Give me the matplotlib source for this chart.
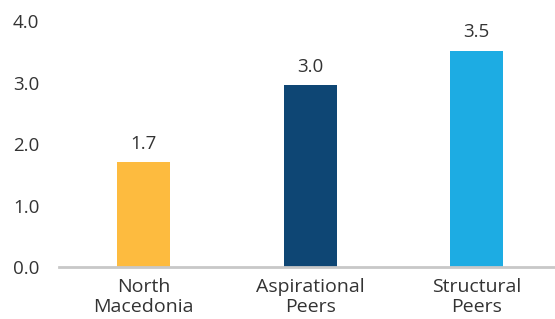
import matplotlib.pyplot as plt

# --- Data ---
categories = ['North\nMacedonia', 'Aspirational\nPeers', 'Structural\nPeers']
values = [1.70, 2.96, 3.52]
colors = ['#FDBB3F', '#0E4674', '#1DACE3']
yticks = [0.0, 1.0, 2.0, 3.0, 4.0]

plt.rcParams['font.family'] = ['Open Sans', 'DejaVu Sans']

fig = plt.figure(figsize=(5.55, 3.19), dpi=100)
ax = fig.add_axes([0.106, 0.163, 0.894, 0.771])

x = range(len(categories))
bars = ax.bar(x, values, width=0.32, color=colors, zorder=2)

# value labels above bars
for bar, v in zip(bars, values):
    ax.text(bar.get_x() + bar.get_width() / 2, v + 0.15, f'{v:.1f}',
            ha='center', va='bottom', fontsize=13.5, color='#333333')

ax.set_xlim(-0.51, 2.47)
ax.set_ylim(0, 4.0)
ax.set_yticks(yticks)
ax.set_yticklabels([f'{t:.1f}' for t in yticks])
ax.set_xticks(list(x))
ax.set_xticklabels(categories, linespacing=1.15)

for s in ['top', 'right', 'left']:
    ax.spines[s].set_visible(False)
ax.spines['bottom'].set_color('#C8C8C8')
ax.spines['bottom'].set_linewidth(2)

ax.tick_params(axis='y', length=0, pad=14, labelsize=13.5, labelcolor='#333333')
ax.tick_params(axis='x', length=0, pad=8, labelsize=14, labelcolor='#333333')

fig.savefig('out.png', dpi=100)
